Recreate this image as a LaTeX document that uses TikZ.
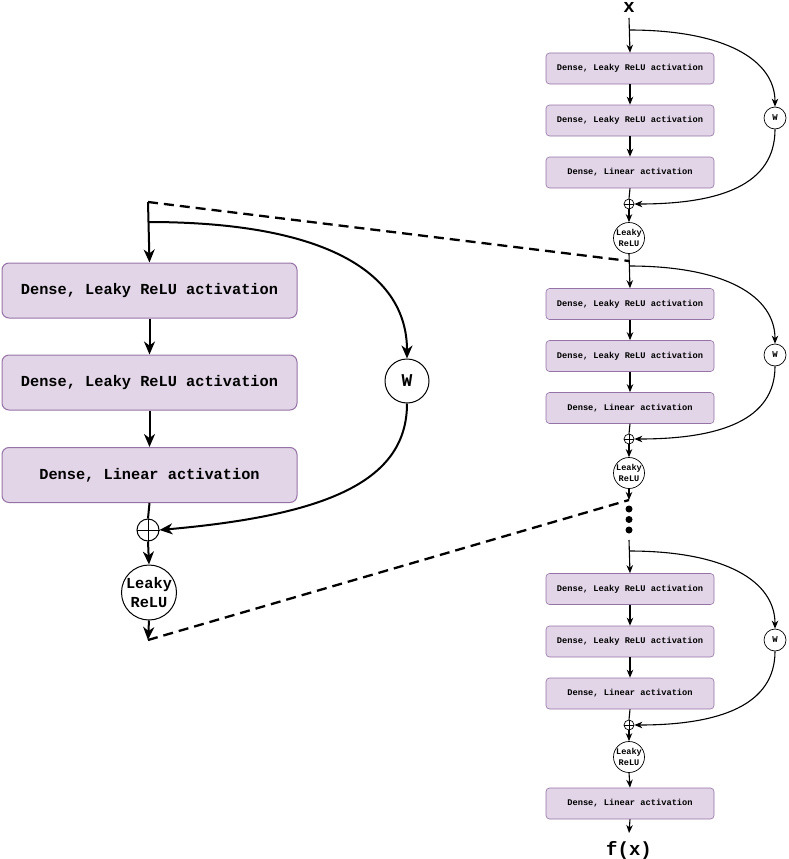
\documentclass[tikz,border=0pt]{standalone}
\usepackage{fontspec}
\setmonofont{Liberation Mono}
\usetikzlibrary{arrows.meta}
\definecolor{boxfill}{HTML}{E1D5E7}
\definecolor{boxdraw}{HTML}{9673A6}
\tikzset{
  bigbox/.style={rectangle, rounded corners=7pt, fill=boxfill, draw=boxdraw, line width=1pt,
    minimum width=295pt, minimum height=55pt, inner sep=0pt,
    font=\ttfamily\bfseries\fontsize{15.3}{18}\selectfont},
  smallbox/.style={rectangle, rounded corners=3.5pt, fill=boxfill, draw=boxdraw, line width=0.6pt,
    minimum width=168pt, minimum height=31pt, inner sep=0pt,
    font=\ttfamily\bfseries\fontsize{8.7}{10}\selectfont},
  bigcirc/.style={circle, draw, line width=1pt, fill=white, inner sep=0pt},
  smallcirc/.style={circle, draw, line width=0.7pt, fill=white, inner sep=0pt},
  thickln/.style={line width=2pt},
  thinln/.style={line width=1.1pt},
  bigarr/.style={thickln, -{Stealth[length=13pt,width=11pt,inset=4pt]}},
  smallarr/.style={thinln, -{Stealth[length=8pt,width=6.5pt,inset=2.5pt]}},
  dashln/.style={line width=2.3pt, dash pattern=on 10pt off 6pt},
  dotnode/.style={circle, fill=black, inner sep=0pt, minimum size=7pt},
  lbl/.style={font=\ttfamily\bfseries\fontsize{19}{22}\selectfont, inner sep=0pt}
}
\begin{document}
\begin{tikzpicture}[x=1pt,y=-1pt]
\useasboundingbox (0,0) rectangle (789,859);

% ---------------- left, enlarged block ----------------
\coordinate (ltop) at (148,202);
\coordinate (lbr) at (148,222);
\node[bigbox] (la) at (149.5,290.5) {Dense, Leaky ReLU activation};
\node[bigbox] (lb) at (149.5,382.5) {Dense, Leaky ReLU activation};
\node[bigbox] (lc) at (149.5,475) {Dense, Linear activation};
\node[bigcirc, minimum size=44pt, font=\ttfamily\bfseries\fontsize{18}{20}\selectfont] (lw) at (407,381) {W};
\node[bigcirc, minimum size=22pt] (lop) at (148,530) {};
\draw[line width=1pt] (lop.north) -- (lop.south) (lop.west) -- (lop.east);
\node[bigcirc, minimum size=55pt, align=center, font=\ttfamily\bfseries\fontsize{15.3}{19}\selectfont] (lleaky) at (149,592.5) {Leaky\\ReLU};
\coordinate (lend) at (148,640);

\draw[bigarr] (ltop) -- (la.north);
\draw[bigarr] (la.south) -- (lb.north);
\draw[bigarr] (lb.south) -- (lc.north);
\draw[thickln] (lc.south) -- (lop.north);
\draw[bigarr] (lop.south) -- (lleaky.north);
\draw[bigarr] (lleaky.south) -- (lend);
\draw[bigarr] (lbr) .. controls (330,222) and (407,275) .. (lw.north);
\draw[bigarr] (lw.south) .. controls (407,480) and (330,515) .. (lop.east);

% ---------------- right column ----------------
\node[lbl, anchor=base, text height=10pt, text depth=0pt] (xin) at (629,13) {x};
\coordinate (xst) at (629,18);
\coordinate (b1) at (629,30);
\node[smallbox] (r1) at (630,68.5) {Dense, Leaky ReLU activation};
\node[smallbox] (r2) at (630,120.5) {Dense, Leaky ReLU activation};
\node[smallbox] (r3) at (630,172.5) {Dense, Linear activation};
\node[smallcirc, minimum size=22pt, font=\ttfamily\bfseries\fontsize{9}{10}\selectfont] (w1) at (775,118) {W};
\node[smallcirc, minimum size=10pt] (op1) at (629,204) {};
\draw[line width=0.6pt] (op1.north) -- (op1.south) (op1.west) -- (op1.east);
\node[smallcirc, minimum size=31pt, align=center, font=\ttfamily\bfseries\fontsize{8.6}{10.5}\selectfont] (lk1) at (629,238) {Leaky\\ReLU};

\draw[smallarr] (xst) -- (r1.north);
\draw[smallarr] (r1.south) -- (r2.north);
\draw[smallarr] (r2.south) -- (r3.north);
\draw[thinln] (r3.south) -- (op1.north);
\draw[smallarr] (op1.south) -- (lk1.north);
\draw[smallarr] (b1) .. controls (725,30) and (775,60) .. (w1.north);
\draw[smallarr] (w1.south) .. controls (775,185) and (720,204) .. (op1.east);

% block 2
\coordinate (d1) at (629,261);
\coordinate (b2) at (629,266);
\node[smallbox] (r4) at (630,304) {Dense, Leaky ReLU activation};
\node[smallbox] (r5) at (630,356) {Dense, Leaky ReLU activation};
\node[smallbox] (r6) at (630,408) {Dense, Linear activation};
\node[smallcirc, minimum size=22pt, font=\ttfamily\bfseries\fontsize{9}{10}\selectfont] (w2) at (775,355) {W};
\node[smallcirc, minimum size=10pt] (op2) at (629,439) {};
\draw[line width=0.6pt] (op2.north) -- (op2.south) (op2.west) -- (op2.east);
\node[smallcirc, minimum size=31pt, align=center, font=\ttfamily\bfseries\fontsize{8.6}{10.5}\selectfont] (lk2) at (629,473) {Leaky\\ReLU};
\coordinate (d2) at (629,500);

\draw[smallarr] (lk1.south) -- (r4.north);
\draw[smallarr] (r4.south) -- (r5.north);
\draw[smallarr] (r5.south) -- (r6.north);
\draw[thinln] (r6.south) -- (op2.north);
\draw[smallarr] (op2.south) -- (lk2.north);
\draw[smallarr] (b2) .. controls (725,266) and (775,296) .. (w2.north);
\draw[smallarr] (w2.south) .. controls (775,420) and (720,439) .. (op2.east);
\draw[smallarr] (lk2.south) -- (d2);

% dots
\node[dotnode] (dt1) at (629,509) {};
\node[dotnode] (dt2) at (629,519.5) {};
\node[dotnode] (dt3) at (629,530) {};

% block 3
\coordinate (s3) at (629,540);
\coordinate (b3) at (629,551);
\node[smallbox] (r7) at (630,589) {Dense, Leaky ReLU activation};
\node[smallbox] (r8) at (630,641.5) {Dense, Leaky ReLU activation};
\node[smallbox] (r9) at (630,693.5) {Dense, Linear activation};
\node[smallcirc, minimum size=22pt, font=\ttfamily\bfseries\fontsize{9}{10}\selectfont] (w3) at (775,640) {W};
\node[smallcirc, minimum size=10pt] (op3) at (629,725) {};
\draw[line width=0.6pt] (op3.north) -- (op3.south) (op3.west) -- (op3.east);
\node[smallcirc, minimum size=31pt, align=center, font=\ttfamily\bfseries\fontsize{8.6}{10.5}\selectfont] (lk3) at (629,757) {Leaky\\ReLU};
\node[smallbox] (r10) at (630,803.5) {Dense, Linear activation};
\coordinate (oend) at (629,833);
\node[lbl, anchor=base] (fx) at (629,855) {f(x)};

\draw[smallarr] (s3) -- (r7.north);
\draw[smallarr] (r7.south) -- (r8.north);
\draw[smallarr] (r8.south) -- (r9.north);
\draw[thinln] (r9.south) -- (op3.north);
\draw[smallarr] (op3.south) -- (lk3.north);
\draw[smallarr] (b3) .. controls (725,551) and (775,581) .. (w3.north);
\draw[smallarr] (w3.south) .. controls (775,705) and (720,725) .. (op3.east);
\draw[smallarr] (lk3.south) -- (r10.north);
\draw[smallarr] (r10.south) -- (oend);

% dashed zoom lines
\draw[dashln] (ltop) -- (d1);
\draw[dashln] (lend) -- (d2);
\end{tikzpicture}
\end{document}
